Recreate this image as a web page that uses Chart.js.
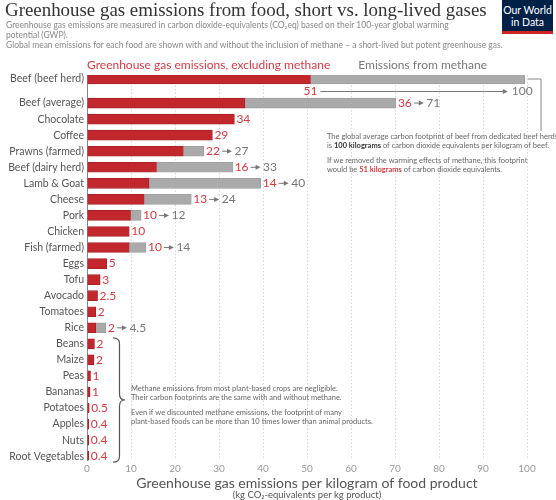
<!DOCTYPE html>
<html lang="en">
<head>
<meta charset="UTF-8">
<title>Greenhouse gas emissions from food, short vs. long-lived gases</title>
<script src="https://cdn.jsdelivr.net/npm/chart.js"></script>
<style>
    body { margin: 0; background: #fff; font-family: Lato, sans-serif; }
    .wrap { position: relative; width: 556px; height: 500px; overflow: hidden; }
    #chart { position: absolute; left: 0; top: 0; }
    h1 {
        position: absolute; left: 5px; top: -1px; margin: 0;
        font: 400 18.9px 'Liberation Serif', serif; line-height: 22px;
        color: #333; white-space: nowrap;
    }
    .sub {
        position: absolute; left: 6px; top: 19.5px;
        font-size: 8.5px; line-height: 10px; color: #888; white-space: nowrap;
    }
    .logo {
        position: absolute; left: 502px; top: 0; width: 51px; height: 27px; padding-top: 4px;
        background: #002147; border-bottom: 3px solid #ce261e;
        color: #fff; font-size: 10.5px; line-height: 12px; text-align: center;
    }
</style>
</head>
<body>
<div class="wrap">
    <canvas id="chart" width="556" height="500"></canvas>
    <h1>Greenhouse gas emissions from food, short vs. long-lived gases</h1>
    <div class="sub">
        Greenhouse gas emissions are measured in carbon dioxide-equivalents (CO₂eq) based on their 100-year global warming<br>
        potential (GWP).<br>
        Global mean emissions for each food are shown with and without the inclusion of methane – a short-lived but potent greenhouse gas.
    </div>
    <div class="logo">Our World<br>in Data</div>
</div>

<script>
    // data (kg CO2eq per kg product)
    const foods = ["Beef (beef herd)", "Beef (average)", "Chocolate", "Coffee", "Prawns (farmed)",
        "Beef (dairy herd)", "Lamb & Goat", "Cheese", "Pork", "Chicken", "Fish (farmed)", "Eggs",
        "Tofu", "Avocado", "Tomatoes", "Rice", "Beans", "Maize", "Peas", "Bananas", "Potatoes",
        "Apples", "Nuts", "Root Vegetables"];
    const withoutMethane = [50.8, 35.9, 33.5, 28.5, 21.9, 15.8, 14.1, 13, 9.9, 9.6, 9.6, 4.5,
        3, 2.4, 2, 2, 1.7, 1.6, 0.8, 0.7, 0.5, 0.4, 0.4, 0.4];
    const withMethane = [99.5, 70.2, 33.5, 28.5, 26.6, 33.1, 39.5, 23.7, 12.3, 9.6, 13.4, 4.5,
        3, 2.4, 2, 4.3, 1.7, 1.6, 0.8, 0.7, 0.5, 0.4, 0.4, 0.4];
    const withoutLabels = ["51", "36", "34", "29", "22", "16", "14", "13", "10", "10", "10", "5",
        "3", "2.5", "2", "2", "2", "2", "1", "1", "0.5", "0.4", "0.4", "0.4"];
    const withLabels = ["100", "71", null, null, "27", "33", "40", "24", "12", null, "14", null,
        null, null, null, "4.5", null, null, null, null, null, null, null, null];
    const xTicks = [0, 10, 20, 30, 40, 50, 60, 70, 80, 90, 100];

    const RED = "#c1272d", GREY = "#aaaaaa", RED_TXT = "#d33b43", GREY_TXT = "#777";

    // half-row slots: first row sits alone with a bigger gap under it
    const slotOf = i => i === 0 ? 0 : 1 + 2 * i;
    const nSlots = slotOf(foods.length - 1) + 1;
    const slotLabels = new Array(nSlots).fill("");
    const redData = new Array(nSlots).fill(null);
    const greyData = new Array(nSlots).fill(null);
    foods.forEach((f, i) => {
        const s = slotOf(i);
        slotLabels[s] = f;
        redData[s] = withoutMethane[i];
        const diff = withMethane[i] - withoutMethane[i];
        greyData[s] = diff > 0 ? diff : null;
    });

    function arrow(ctx, x1, x2, y) {
        ctx.strokeStyle = GREY_TXT;
        ctx.fillStyle = GREY_TXT;
        ctx.lineWidth = 1;
        ctx.beginPath();
        ctx.moveTo(x1, y);
        ctx.lineTo(x2 - 4, y);
        ctx.stroke();
        ctx.beginPath();
        ctx.moveTo(x2, y);
        ctx.lineTo(x2 - 5, y - 2.5);
        ctx.lineTo(x2 - 5, y + 2.5);
        ctx.closePath();
        ctx.fill();
    }

    function runs(ctx, parts, x, y) {
        parts.forEach(p => {
            ctx.font = p[1];
            ctx.fillStyle = p[2];
            ctx.fillText(p[0], x, y);
            x += ctx.measureText(p[0]).width;
        });
    }

    const extras = {
        id: "extras",
        afterDatasetsDraw(chart) {
            const { ctx, scales: { x, y } } = chart;
            ctx.save();
            ctx.textBaseline = "middle";
            foods.forEach((f, i) => {
                const yy = y.getPixelForValue(slotOf(i));
                const xLow = x.getPixelForValue(withoutMethane[i]);
                const xTot = x.getPixelForValue(withMethane[i]);
                ctx.font = "12px Lato";
                if (i === 0) {
                    const ly = yy + 12.5;
                    ctx.fillStyle = RED_TXT;
                    ctx.textAlign = "center";
                    ctx.fillText(withoutLabels[i], xLow, ly);
                    ctx.textAlign = "left";
                    arrow(ctx, xLow + 10, xTot - 17, ly);
                    ctx.fillStyle = GREY_TXT;
                    ctx.fillText(withLabels[i], xTot - 13, ly);
                    // bracket to the note
                    ctx.strokeStyle = "#888";
                    ctx.lineWidth = 1;
                    ctx.beginPath();
                    ctx.moveTo(xTot + 3, yy);
                    ctx.lineTo(541, yy);
                    ctx.lineTo(541, 131);
                    ctx.stroke();
                    return;
                }
                ctx.textAlign = "left";
                ctx.fillStyle = RED_TXT;
                let tx = xTot + 2;
                ctx.fillText(withoutLabels[i], tx, yy);
                if (withLabels[i]) {
                    tx += ctx.measureText(withoutLabels[i]).width + 2;
                    arrow(ctx, tx, tx + 10, yy);
                    ctx.fillStyle = GREY_TXT;
                    ctx.fillText(withLabels[i], tx + 12.5, yy);
                }
            });
            ctx.restore();
        },
        afterDraw(chart) {
            const { ctx, scales: { x, y } } = chart;
            ctx.save();
            ctx.textBaseline = "alphabetic";
            ctx.textAlign = "left";
            // series names above the first bar
            ctx.font = "12px Lato";
            ctx.fillStyle = RED_TXT;
            ctx.fillText("Greenhouse gas emissions, excluding methane", x.getPixelForValue(0), 68.5);
            ctx.fillStyle = GREY_TXT;
            ctx.textAlign = "center";
            const mid = (x.getPixelForValue(withoutMethane[0]) + x.getPixelForValue(withMethane[0])) / 2 + 5;
            ctx.fillText("Emissions from methane", mid, 68.5);

            // axis title
            const cx = (chart.chartArea.left + chart.chartArea.right) / 2;
            ctx.fillStyle = "#555";
            ctx.font = "14px Lato";
            ctx.fillText("Greenhouse gas emissions per kilogram of food product", cx, 488);
            ctx.font = "9.5px Lato";
            ctx.fillText("(kg CO₂-equivalents per kg product)", cx, 498);

            // beef note
            ctx.textAlign = "left";
            const n = "7.5px Lato", nb = "bold 7.5px Lato";
            runs(ctx, [["The global average carbon footprint of beef from dedicated beef herds", n, "#666"]], 327, 139);
            runs(ctx, [["is ", n, "#666"], ["100 kilograms", nb, "#333"],
                [" of carbon dioxide equivalents per kilogram of beef.", n, "#666"]], 327, 147.5);
            runs(ctx, [["If we removed the warming effects of methane, this footprint", n, "#666"]], 327, 163);
            runs(ctx, [["would be ", n, "#666"], ["51 kilograms", nb, RED_TXT],
                [" of carbon dioxide equivalents.", n, "#666"]], 327, 171.5);

            // brace for the plant-based group
            const top = y.getPixelForValue(slotOf(16)) - 6;
            const bot = y.getPixelForValue(slotOf(23)) + 6;
            const bm = (top + bot) / 2;
            const x0 = 113, x1 = 119.5, x2 = 125;
            ctx.strokeStyle = "#555";
            ctx.lineWidth = 1.2;
            ctx.beginPath();
            ctx.moveTo(x0, top);
            ctx.quadraticCurveTo(x1, top, x1, top + 6);
            ctx.lineTo(x1, bm - 6);
            ctx.quadraticCurveTo(x1, bm, x2, bm);
            ctx.quadraticCurveTo(x1, bm, x1, bm + 6);
            ctx.lineTo(x1, bot - 6);
            ctx.quadraticCurveTo(x1, bot, x0, bot);
            ctx.stroke();

            runs(ctx, [["Methane emissions from most plant-based crops are negligible.", n, "#666"]], 131, 391);
            runs(ctx, [["Their carbon footprints are the same with and without methane.", n, "#666"]], 131, 399.5);
            runs(ctx, [["Even if we discounted methane emissions, the footprint of many", n, "#666"]], 131, 415);
            runs(ctx, [["plant-based foods can be more than 10 times lower than animal products.", n, "#666"]], 131, 423.5);
            ctx.restore();
        }
    };

    new Chart(document.getElementById("chart"), {
        type: "bar",
        data: {
            labels: slotLabels,
            datasets: [
                { label: "Greenhouse gas emissions, excluding methane", data: redData, backgroundColor: RED,
                  borderColor: "#a51f25", borderWidth: 0.8, borderSkipped: "start", barThickness: 10 },
                { label: "Emissions from methane", data: greyData, backgroundColor: GREY,
                  borderColor: "#9c9c9c", borderWidth: 0.8, borderSkipped: "start", barThickness: 10 }
            ]
        },
        options: {
            indexAxis: "y",
            responsive: false,
            animation: false,
            devicePixelRatio: 1,
            layout: { padding: { top: 75, right: 29, bottom: 24.8, left: 0 } },
            plugins: { legend: { display: false }, tooltip: { enabled: false } },
            scales: {
                x: {
                    stacked: true,
                    min: 0, max: 100,
                    afterBuildTicks(scale) { scale.ticks = xTicks.map(v => ({ value: v })); },
                    afterFit(scale) { scale.height = 15; },
                    ticks: { font: { family: "Lato", size: 10 }, color: "#999", padding: 3 },
                    grid: {
                        color: c => c.tick && c.tick.value === 0 ? "transparent" : "#d8d8d8",
                        lineWidth: 1, drawTicks: false
                    },
                    border: { display: false, dash: [1.5, 2] }
                },
                y: {
                    stacked: true,
                    afterFit(scale) { scale.width = 87; },
                    ticks: { autoSkip: false, font: { family: "Lato", size: 10.5 }, color: "#555", padding: 3 },
                    grid: { display: false, drawTicks: false },
                    border: { display: true, color: "#888", width: 1 }
                }
            }
        },
        plugins: [extras]
    });
</script>
</body>
</html>
